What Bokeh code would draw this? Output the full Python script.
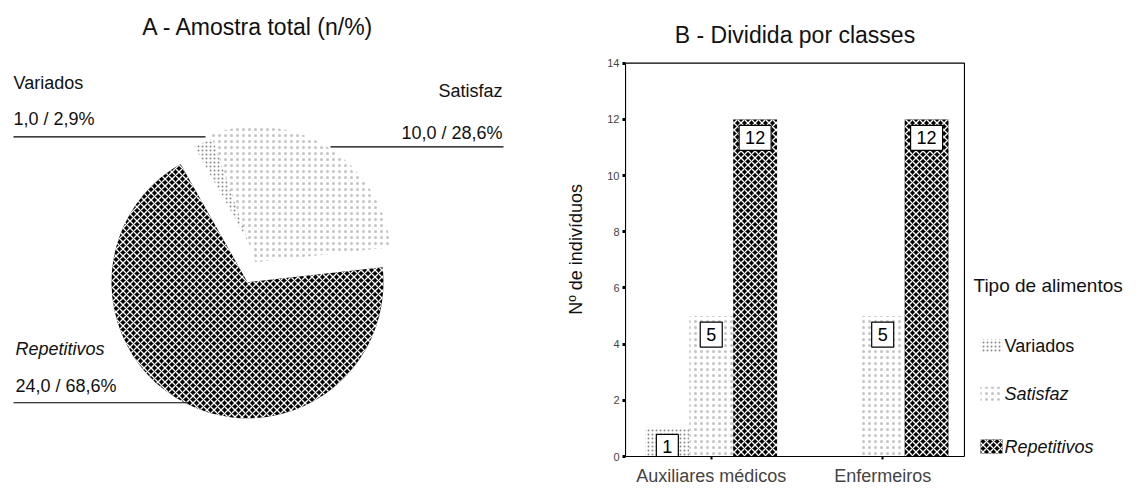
import numpy as np
from bokeh.plotting import figure
from bokeh.layouts import row
from bokeh.models import ColumnDataSource, Range1d, FixedTicker
from bokeh.core.properties import value
from bokeh.transform import dodge
from bokeh.embed import file_html
from bokeh.resources import INLINE

# ---- Panel A: whole sample (n / %) ----
pie_labels = ["Variados", "Satisfaz", "Repetitivos"]
pie_counts = [1.0, 10.0, 24.0]
pie_pct = [2.9, 28.6, 68.6]

# ---- Panel B: split by professional class ----
classes = ["Auxiliares médicos", "Enfermeiros"]
food_types = ["Variados", "Satisfaz", "Repetitivos"]
variados = [1, 0]
satisfaz = [5, 5]
repetitivos = [12, 12]
y_ticks = [0, 2, 4, 6, 8, 10, 12, 14]
y_title = "Nº de indivíduos"

FONT = "Liberation Sans"
W, H = 1138, 488
BOTTOM = 30        # shared bottom border of the three panels
BOX_TOP = 63       # pixel row of the top edge of the bar chart box

# fill styles per food type
STYLE = {
    "Variados": dict(fill_color="white", hatch_pattern="dot", hatch_color="#8a8a8a",
                     hatch_scale=4, hatch_weight=1.0),
    "Satisfaz": dict(fill_color="white", hatch_pattern="dot", hatch_color="#c4c4c4",
                     hatch_scale=6, hatch_weight=1.0),
    "Repetitivos": dict(fill_color="black", hatch_pattern="diagonal_cross", hatch_color="white",
                        hatch_scale=7, hatch_weight=1.3),
}
TXT = dict(text_font=value(FONT), text_color="#111111", text_baseline="middle")


def fmt(v):
    return f"{v:.1f}".replace(".", ",")


def blank_panel(width):
    """Axis-less panel whose data units are pixels measured from the bottom edge."""
    f = figure(width=width, height=H, x_range=Range1d(0, width),
               y_range=Range1d(BOTTOM, H), x_axis_type=None, y_axis_type=None,
               toolbar_location=None, output_backend="svg",
               min_border_left=0, min_border_right=0, min_border_top=0,
               min_border_bottom=BOTTOM, outline_line_color=None)
    f.grid.visible = False
    return f


# ================= Pie =================
PW = 590
pie = blank_panel(PW)
pie.text(x=[258], y=[H - 27], text=["A - Amostra total (n/%)"], text_align="center",
         text_font_size="23px", **TXT)

cx, cy, radius = 247, H - 283, 136
start0 = np.radians(119.5)
counts = np.array(pie_counts)
ang = counts / counts.sum() * 2 * np.pi
cum = np.concatenate([[0], np.cumsum(ang)])
starts = start0 - cum[:-1]
ends = start0 - cum[1:]
# pull-out of each slice from the centre, in pixels (dx, dy)
explode = [(14, 17), (8, 20), (0, 0)]

for i, lab in enumerate(pie_labels):
    pie.wedge(x=cx + explode[i][0], y=cy + explode[i][1], radius=radius,
              start_angle=starts[i], end_angle=ends[i],
              direction="clock", line_color=None, **STYLE[lab])

# label block: (x, name y, value y, align, leader line x0, x1, y)
label_layout = {
    "Variados": (13, H - 83, H - 119, "left", 13, 205, H - 137),
    "Satisfaz": (502, H - 91, H - 133, "right", 330, 503, H - 147),
    "Repetitivos": (15, H - 350, H - 387, "left", 13, 190, H - 404),
}
for i, lab in enumerate(pie_labels):
    x, yn, yv, al, x0, x1, yl = label_layout[lab]
    style = "italic" if lab == "Repetitivos" else "normal"
    pie.text(x=[x], y=[yn], text=[lab], text_align=al, text_font_size="18px",
             text_font_style=style, **TXT)
    pie.text(x=[x], y=[yv], text=[f"{fmt(pie_counts[i])} / {fmt(pie_pct[i])}%"],
             text_align=al, text_font_size="18px", **TXT)
    pie.segment(x0=[x0], y0=[yl], x1=[x1], y1=[yl], line_color="black", line_width=1.2)

# vertical title of the bar chart's count axis (sits in the gap between the panels)
pie.text(x=[575], y=[H - 250], text=[y_title], angle=np.pi / 2, text_align="center",
         text_font_size="18px", **TXT)

# ================= Bars =================
BW = 375
unit_w = 0.256
x_box, y_box = 1.977, 14                      # extent of the boxed plotting area
px_per_unit = (H - BOTTOM - BOX_TOP) / y_box
y_end = (H - BOTTOM) / px_per_unit             # frame also holds the heading above the box
x_end = x_box * 1.003
bars = figure(width=BW, height=H, x_range=Range1d(0, x_end), y_range=Range1d(0, y_end),
              toolbar_location=None, output_backend="svg",
              min_border_left=35, min_border_right=0, min_border_top=0,
              min_border_bottom=BOTTOM, outline_line_color=None)
bars.grid.visible = False

# box around the plotting area
bars.quad(left=[0], right=[x_box], bottom=[0], top=[y_box], fill_color=None,
          line_color="black", line_width=1.2)
bars.text(x=[x_box / 2], y=[y_box + (BOX_TOP - 35) / px_per_unit],
          text=["B - Dividida por classes"], text_align="center", text_font_size="23px", **TXT)

xpos = [i + 0.5 for i in range(len(classes))]
src = ColumnDataSource(dict(x=xpos, Variados=variados, Satisfaz=satisfaz,
                            Repetitivos=repetitivos))
offsets = {"Variados": -unit_w, "Satisfaz": 0.0, "Repetitivos": unit_w}
for ft in food_types:
    bars.vbar(x=dodge("x", offsets[ft]), top=ft, bottom=0, width=unit_w, source=src,
              line_color=None, **STYLE[ft])

# value boxes, hanging from the top of each bar
lab_x, lab_y, lab_t = [], [], []
vals = {"Variados": variados, "Satisfaz": satisfaz, "Repetitivos": repetitivos}
for ft in food_types:
    for i, v in enumerate(vals[ft]):
        if v > 0:
            lab_x.append(xpos[i] + offsets[ft])
            lab_y.append(v)
            lab_t.append(str(v))
bars.text(x=lab_x, y=lab_y, text=lab_t, text_align="center", text_baseline="top",
          y_offset=6, text_font=value(FONT), text_font_size="18px", text_color="black",
          background_fill_color="white", border_line_color="black", border_line_width=1.2,
          padding=6)

yax = bars.yaxis[0]
yax.bounds = (0, y_box)
yax.ticker = FixedTicker(ticks=y_ticks)
yax.major_label_text_font = FONT
yax.major_label_text_font_size = "11px"
yax.major_tick_in = 0
yax.major_tick_out = 3
yax.major_tick_line_width = 3
yax.minor_tick_line_color = None
yax.major_label_standoff = 3

xax = bars.xaxis[0]
xax.bounds = (0, x_box)
xax.ticker = FixedTicker(ticks=xpos)
xax.major_label_overrides = {x: c for x, c in zip(xpos, classes)}
xax.major_label_text_font = FONT
xax.major_label_text_font_size = "18px"
xax.major_tick_in = 0
xax.major_tick_out = 3
xax.major_tick_line_width = 2
xax.minor_tick_line_color = None
xax.major_label_standoff = 6

# ================= Legend =================
LW = W - PW - BW
leg = blank_panel(LW)
leg.text(x=[8], y=[H - 286], text=["Tipo de alimentos"], text_font_size="19px", **TXT)
leg_y = {"Variados": H - 347, "Satisfaz": H - 395, "Repetitivos": H - 448}
for ft in food_types:
    leg.rect(x=[26], y=[leg_y[ft]], width=22, height=14, line_color=None, **STYLE[ft])
    leg.text(x=[39], y=[leg_y[ft]], text=[ft], text_font_size="18px",
             text_font_style="normal" if ft == "Variados" else "italic", **TXT)

layout = row(pie, bars, leg)
open("out.html", "w").write(file_html(layout, INLINE))
